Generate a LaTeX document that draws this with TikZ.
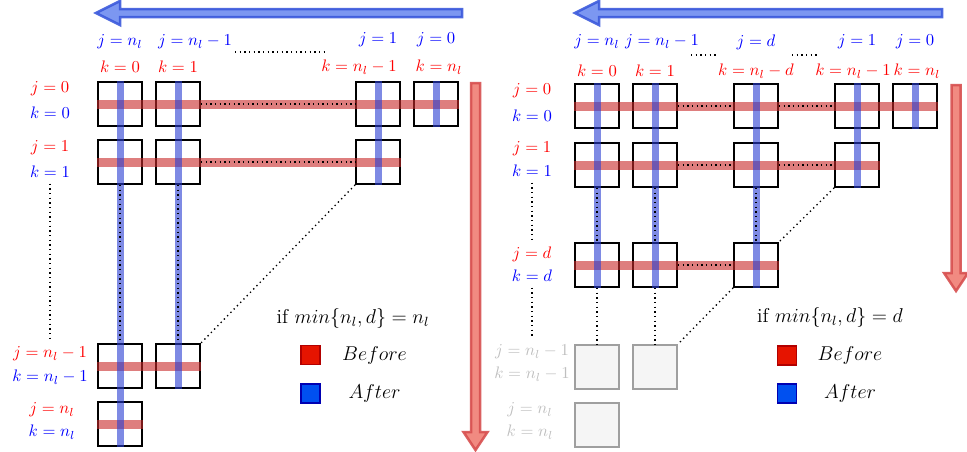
\documentclass[tikz,border=0pt]{standalone}
\usepackage{amsmath,amssymb}
\usepackage{tikz}
\usetikzlibrary{positioning}
\usepackage{xcolor}
\definecolor{bandred}{RGB}{200,40,40}
\definecolor{bandblue}{RGB}{40,60,210}
\definecolor{arrowblue}{RGB}{60,90,220}
\definecolor{arrowbluefill}{RGB}{110,140,240}
\definecolor{arrowred}{RGB}{215,80,80}
\definecolor{arrowredfill}{RGB}{240,125,115}
\definecolor{keyred}{RGB}{230,20,0}
\definecolor{keyblue}{RGB}{0,80,240}

\begin{document}
\begin{tikzpicture}[
    x=0.6pt, y=-0.6pt,
    cell/.style={draw, line width=1pt, minimum size=26.4pt, inner sep=0pt},
    ghost/.style={cell, draw=gray!75, fill=gray!8},
    rowband/.style={draw=bandred, line width=5.4pt, opacity=0.6},
    colband/.style={draw=bandblue, line width=4.2pt, opacity=0.6},
    gap/.style={dotted, line width=0.8pt},
    jlab/.style={text=red},
    klab/.style={text=blue},
    glab/.style={text=gray!50},
    bluearrow/.style={draw=arrowblue, fill=arrowbluefill, line width=1.5pt, opacity=0.9},
    redarrow/.style={draw=arrowred, fill=arrowredfill, line width=1.5pt, opacity=0.9},
    keybox/.style={minimum size=11.4pt, inner sep=0pt, line width=0.8pt}
]
\useasboundingbox (0,0) rectangle (967,452);

% big arrows
\draw[bluearrow] (462,9) -- (120,9) -- (120,1) -- (96,13) -- (120,25) -- (120,17) -- (462,17) -- cycle;
\draw[redarrow] (471,83) -- (471,432) -- (463.5,432) -- (475.5,450) -- (487.5,432) -- (480,432) -- (480,83) -- cycle;
\draw[bluearrow] (942,9) -- (599,9) -- (599,1) -- (575,13) -- (599,25) -- (599,17) -- (942,17) -- cycle;
\draw[redarrow] (951.5,85) -- (951.5,273) -- (944,273) -- (956,291) -- (968,273) -- (960.5,273) -- (960.5,85) -- cycle;

% left panel: min = n_l
\node[cell] (A00) at (120,104) {};
\node[cell] (A01) at (178,104) {};
\node[cell] (A02) at (378,104) {};
\node[cell] (A03) at (436,104) {};
\node[cell] (A10) at (120,162) {};
\node[cell] (A11) at (178,162) {};
\node[cell] (A12) at (378,162) {};
\node[cell] (A20) at (120,366) {};
\node[cell] (A21) at (178,366) {};
\node[cell] (A30) at (120,424) {};

\draw[rowband] (A00.west) -- (A03.east);
\draw[rowband] (A10.west) -- (A12.east);
\draw[rowband] (A20.west) -- (A21.east);
\draw[rowband] (A30.west) -- (A30.east);
\draw[colband] (A00.north) -- (A30.south);
\draw[colband] (A01.north) -- (A21.south);
\draw[colband] (A02.north) -- (A12.south);
\draw[colband] (A03.north) -- (A03.south);

\draw[gap] (A01.east) -- (A02.west);
\draw[gap] (A11.east) -- (A12.west);
\draw[gap] (A10.south) -- (A20.north);
\draw[gap] (A11.south) -- (A21.north);
\draw[gap] (A12.south west) -- (A21.north east);

\node[klab] (Atj0) at (120,42) {$j=n_l$};
\node[klab] (Atj1) at (195,42) {$j=n_l-1$};
\node[klab] (Atj2) at (378,40) {$j=1$};
\node[klab] (Atj3) at (436,40) {$j=0$};
\node[jlab] (Atk0) at (120,67) {$k=0$};
\node[jlab] (Atk1) at (178,67) {$k=1$};
\node[jlab] (Atk2) at (359,67) {$k=n_l-1$};
\node[jlab] (Atk3) at (439,67) {$k=n_l$};
\coordinate (Adot1) at (235,52);
\coordinate (Adot2) at (327,52);
\draw[gap] (Adot1) -- (Adot2);

\node[jlab] (Alj0) at (50,89) {$j=0$};
\node[klab] (Alk0) at (50,113) {$k=0$};
\node[jlab] (Alj1) at (50,148) {$j=1$};
\node[klab] (Alk1) at (50,172) {$k=1$};
\node[jlab] (Alj2) at (50,354) {$j=n_l-1$};
\node[klab] (Alk2) at (50,377) {$k=n_l-1$};
\node[jlab] (Alj3) at (52,410) {$j=n_l$};
\node[klab] (Alk3) at (52,432) {$k=n_l$};
\draw[gap] (Alk1.south) -- (Alj2.north);

\node[font=\large] (Aif) at (353,318) {if $min\{n_l,d\}=n_l$};
\node[keybox, draw=red!70!black, fill=keyred] (Akr) at (310.5,355) {};
\node[font=\large] (Akrt) at (374.5,355) {$Before$};
\node[keybox, draw=blue!70!black, fill=keyblue] (Akb) at (310.5,393.5) {};
\node[font=\large] (Akbt) at (374.5,393.5) {$After$};

% right panel: min = d
\node[cell] (B00) at (597,106) {};
\node[cell] (B01) at (655,106) {};
\node[cell] (B02) at (756,106) {};
\node[cell] (B03) at (857,106) {};
\node[cell] (B04) at (915,106) {};
\node[cell] (B10) at (597,165) {};
\node[cell] (B11) at (655,165) {};
\node[cell] (B12) at (756,165) {};
\node[cell] (B13) at (857,165) {};
\node[cell] (B20) at (597,265) {};
\node[cell] (B21) at (655,265) {};
\node[cell] (B22) at (756,265) {};
\node[ghost] (B30) at (597,367) {};
\node[ghost] (B31) at (655,367) {};
\node[ghost] (B40) at (597,425) {};

\draw[rowband] (B00.west) -- (B04.east);
\draw[rowband] (B10.west) -- (B13.east);
\draw[rowband] (B20.west) -- (B22.east);
\draw[colband] (B00.north) -- (B20.south);
\draw[colband] (B01.north) -- (B21.south);
\draw[colband] (B02.north) -- (B22.south);
\draw[colband] (B03.north) -- (B13.south);
\draw[colband] (B04.north) -- (B04.south);

\draw[gap] (B01.east) -- (B02.west);
\draw[gap] (B02.east) -- (B03.west);
\draw[gap] (B11.east) -- (B12.west);
\draw[gap] (B12.east) -- (B13.west);
\draw[gap] (B21.east) -- (B22.west);
\draw[gap] (B10.south) -- (B20.north);
\draw[gap] (B11.south) -- (B21.north);
\draw[gap] (B12.south) -- (B22.north);
\draw[gap] (B20.south) -- (B30.north);
\draw[gap] (B21.south) -- (B31.north);
\draw[gap] (B13.south west) -- (B22.north east);
\draw[gap] (B22.south west) -- (B31.north east);

\node[klab] (Btj0) at (597,42) {$j=n_l$};
\node[klab] (Btj1) at (662,42) {$j=n_l-1$};
\node[klab] (Btj2) at (756,42) {$j=d$};
\node[klab] (Btj3) at (857,42) {$j=1$};
\node[klab] (Btj4) at (915,42) {$j=0$};
\node[jlab] (Btk0) at (597,71) {$k=0$};
\node[jlab] (Btk1) at (655,71) {$k=1$};
\node[jlab] (Btk2) at (756,71) {$k=n_l-d$};
\node[jlab] (Btk3) at (853,71) {$k=n_l-1$};
\node[jlab] (Btk4) at (917,71) {$k=n_l$};
\coordinate (Bdot1) at (691,55);
\coordinate (Bdot2) at (718,55);
\coordinate (Bdot3) at (792,55);
\coordinate (Bdot4) at (819,55);
\draw[gap] (Bdot1) -- (Bdot2);
\draw[gap] (Bdot3) -- (Bdot4);

\node[jlab] (Blj0) at (532,91) {$j=0$};
\node[klab] (Blk0) at (532,116) {$k=0$};
\node[jlab] (Blj1) at (532,149) {$j=1$};
\node[klab] (Blk1) at (532,171) {$k=1$};
\node[jlab] (Bljd) at (532,254) {$j=d$};
\node[klab] (Blkd) at (532,276) {$k=d$};
\node[glab] (Blj2) at (532,352) {$j=n_l-1$};
\node[glab] (Blk2) at (532,374) {$k=n_l-1$};
\node[glab] (Blj3) at (530,410) {$j=n_l$};
\node[glab] (Blk3) at (530,432) {$k=n_l$};
\draw[gap] (Blk1.south) -- (Bljd.north);
\draw[gap] (Blkd.south) -- (Blj2.north);

\node[font=\large] (Bif) at (830,317) {if $min\{n_l,d\}=d$};
\node[keybox, draw=red!70!black, fill=keyred] (Bkr) at (787,355.5) {};
\node[font=\large] (Bkrt) at (850,355) {$Before$};
\node[keybox, draw=blue!70!black, fill=keyblue] (Bkb) at (787,393.5) {};
\node[font=\large] (Bkbt) at (850,393.5) {$After$};
\end{tikzpicture}
\end{document}
